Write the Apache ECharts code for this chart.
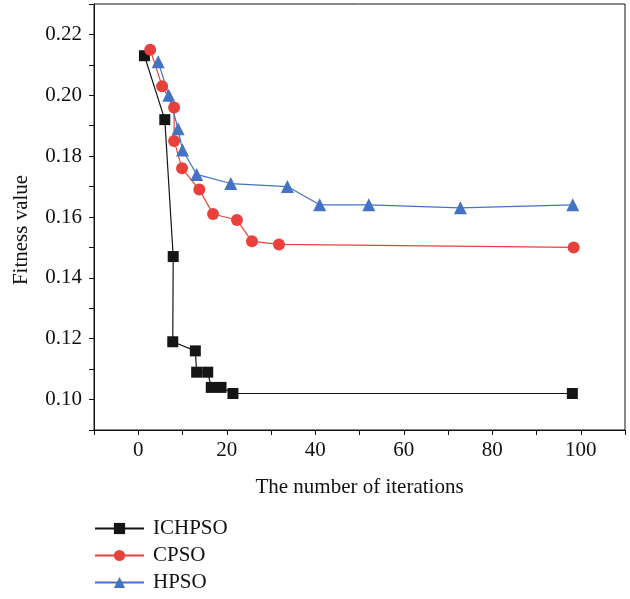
<!DOCTYPE html>
<html>
<head>
<meta charset="utf-8">
<script src="https://cdn.jsdelivr.net/npm/echarts@6/dist/echarts.min.js"></script>
<style>
  html, body { margin: 0; padding: 0; background: #fff; }
  #container { width: 630px; height: 599px; }
</style>
</head>
<body>
<div id="container"></div>
<script>
// 数据
var seriesNames = ['ICHPSO', 'CPSO', 'HPSO'];

var ichpsoX = [1.4, 6.0, 7.9, 7.8, 12.9, 13.2, 15.7, 16.5, 18.7, 21.4, 98.1];
var ichpsoY = [0.213, 0.192, 0.147, 0.119, 0.116, 0.109, 0.109, 0.104, 0.104, 0.102, 0.102];

var cpsoX = [2.7, 5.4, 8.1, 8.1, 9.9, 13.8, 16.9, 22.3, 25.7, 31.8, 98.4];
var cpsoY = [0.215, 0.203, 0.196, 0.185, 0.176, 0.169, 0.161, 0.159, 0.152, 0.151, 0.150];

var hpsoX = [4.5, 6.9, 9.0, 10.0, 13.2, 20.9, 33.7, 41.0, 52.1, 72.8, 98.2];
var hpsoY = [0.211, 0.200, 0.189, 0.182, 0.174, 0.171, 0.170, 0.164, 0.164, 0.163, 0.164];

var font = '"Liberation Serif", "DejaVu Serif", serif';

function pairs(xs, ys) {
    return xs.map(function (x, i) { return [x, ys[i]]; });
}

function makeSeries(name, xs, ys, color, symbol, size) {
    return {
        name: name,
        type: 'line',
        data: pairs(xs, ys),
        symbol: symbol,
        symbolSize: size,
        showAllSymbol: true,
        lineStyle: { color: color, width: 1.2 },
        itemStyle: { color: color },
        emphasis: { disabled: true },
        animation: false
    };
}

var option = {
    backgroundColor: '#fff',
    grid: {
        left: 94, right: 5, top: 4, bottom: 169,
        show: true, borderColor: '#111', borderWidth: 1
    },
    legend: {
        orient: 'vertical',
        left: 94,
        top: 518,
        padding: 0,
        itemWidth: 49,
        itemHeight: 14,
        itemGap: 6,
        data: seriesNames,
        textStyle: { fontFamily: font, fontSize: 21, color: '#111', lineHeight: 21, padding: [0, 0, 0, 4] }
    },
    xAxis: {
        type: 'value',
        min: -10, max: 110, interval: 10,
        name: 'The number of iterations',
        nameLocation: 'middle',
        nameGap: 47,
        nameTextStyle: { fontFamily: font, fontSize: 21, color: '#111' },
        axisLine: { show: true, onZero: false, lineStyle: { color: '#111', width: 1 } },
        axisTick: { show: true, length: 5, lineStyle: { color: '#111' } },
        axisLabel: {
            margin: 10,
            fontFamily: font, fontSize: 21, color: '#111',
            formatter: function (v) {
                var k = Math.round(v / 10);
                return (k % 2 === 0 && k >= 0 && k <= 10) ? String(k * 10) : '';
            }
        },
        splitLine: { show: false }
    },
    yAxis: {
        type: 'value',
        min: 0.09, max: 0.23, interval: 0.01,
        name: 'Fitness value',
        nameLocation: 'middle',
        nameGap: 62,
        nameTextStyle: { fontFamily: font, fontSize: 21, color: '#111', padding: [0, 26, 0, 0] },
        axisLine: { show: true, onZero: false, lineStyle: { color: '#111', width: 1 } },
        axisTick: { show: true, length: 5, lineStyle: { color: '#111' } },
        axisLabel: {
            margin: 12,
            fontFamily: font, fontSize: 21, color: '#111',
            formatter: function (v) {
                var k = Math.round(v * 100);
                return k % 2 === 0 ? (k / 100).toFixed(2) : '';
            }
        },
        splitLine: { show: false }
    },
    series: [
        makeSeries('ICHPSO', ichpsoX, ichpsoY, '#151515', 'rect', 11),
        makeSeries('CPSO', cpsoX, cpsoY, '#e8413c', 'circle', 12),
        makeSeries('HPSO', hpsoX, hpsoY, '#4472c4', 'triangle', 13)
    ]
};

var myChart = echarts.init(document.getElementById('container'));
myChart.setOption(option);
</script>
</body>
</html>
